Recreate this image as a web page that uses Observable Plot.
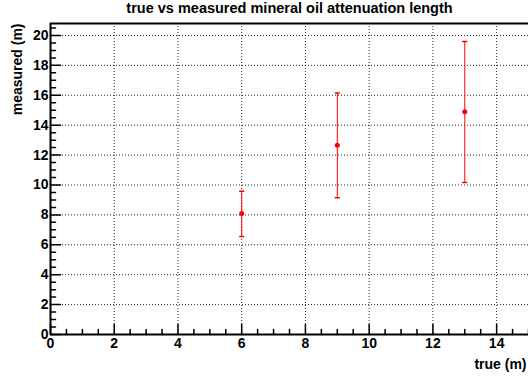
<!DOCTYPE html>
<html><head><meta charset="utf-8">
<script src="https://cdn.jsdelivr.net/npm/d3@7"></script>
<script src="https://cdn.jsdelivr.net/npm/@observablehq/plot@0.6"></script>
<style>body{margin:0;background:#fff}svg{font-family:"Liberation Sans",Arial,sans-serif;font-weight:bold}</style>
</head><body><div id="chart"></div>
<script>
const trueVals = [6, 9, 13];
const measured = [8.1, 12.65, 14.9];
const errLow = [6.56, 9.15, 10.17];
const errHigh = [9.58, 16.15, 19.6];
const xMajor = [0, 2, 4, 6, 8, 10, 12, 14];
const yMajor = [0, 2, 4, 6, 8, 10, 12, 14, 16, 18, 20];
const title = "true vs measured mineral oil attenuation length";
const xLabel = "true (m)";
const yLabel = "measured (m)";

const data = trueVals.map((x, i) => ({x, y: measured[i], lo: errLow[i], hi: errHigh[i]}));
const xMinor = d3.range(0, 15.01, 0.5).filter(v => !xMajor.includes(v));
const yMinor = d3.range(0, 20.81, 0.5).filter(v => !yMajor.includes(v));
const line = {draw(ctx, l) { ctx.moveTo(0, 0); ctx.lineTo(0, -l); }};
const cap = {draw(ctx, l) { ctx.moveTo(-l/2, 0); ctx.lineTo(l/2, 0); }};

const chart = Plot.plot({
  width: 528, height: 376,
  marginLeft: 50, marginRight: 0, marginTop: 23, marginBottom: 42,
  style: {fontFamily: "Liberation Sans, Arial, sans-serif", fontWeight: "bold", fontSize: "14px"},
  x: {domain: [0, 15]},
  y: {domain: [0, 20.8]},
  marks: [
    Plot.gridX(xMajor.filter(v => v > 0), {stroke: "black", strokeOpacity: 0.85, strokeDasharray: "1,2"}),
    Plot.gridY(yMajor.filter(v => v > 0), {stroke: "black", strokeOpacity: 0.85, strokeDasharray: "1,2"}),
    Plot.vector(xMajor, {x: d => d, y: 0, length: 10, anchor: "start", shape: line, stroke: "black"}),
    Plot.vector(xMinor, {x: d => d, y: 0, length: 5, anchor: "start", shape: line, stroke: "black"}),
    Plot.vector(yMajor, {x: 0, y: d => d, length: 10, rotate: 90, anchor: "start", shape: line, stroke: "black"}),
    Plot.vector(yMinor, {x: 0, y: d => d, length: 5, rotate: 90, anchor: "start", shape: line, stroke: "black"}),
    Plot.axisX(xMajor, {tickSize: 0, tickPadding: 4, fontSize: 14, fontWeight: "bold", label: null}),
    Plot.axisY(yMajor, {tickSize: 0, tickPadding: 2, fontSize: 14, fontWeight: "bold", label: null}),
    Plot.ruleY([0], {stroke: "black", strokeWidth: 2}),
    Plot.ruleY([20.8], {stroke: "black", strokeWidth: 2}),
    Plot.ruleX([0], {stroke: "black", strokeWidth: 2}),
    Plot.ruleX(data, {x: "x", y1: "lo", y2: "hi", stroke: "red", strokeWidth: 1}),
    Plot.vector(data, {x: "x", y: "lo", length: 4, anchor: "start", shape: cap, stroke: "red"}),
    Plot.vector(data, {x: "x", y: "hi", length: 4, anchor: "start", shape: cap, stroke: "red"}),
    Plot.dot(data, {x: "x", y: "y", r: 2.5, fill: "red"}),
    Plot.text([title], {frameAnchor: "top", dy: -21, fontSize: 14.5, fontWeight: "bold"}),
    Plot.text([xLabel], {frameAnchor: "bottom-right", dx: -2, dy: 34, textAnchor: "end", fontSize: 14, fontWeight: "bold"}),
    Plot.text([yLabel], {frameAnchor: "top-left", dx: -38, dy: 0, rotate: -90, textAnchor: "end", fontSize: 14, fontWeight: "bold"})
  ]
});
document.getElementById("chart").appendChild(chart);
</script></body></html>
